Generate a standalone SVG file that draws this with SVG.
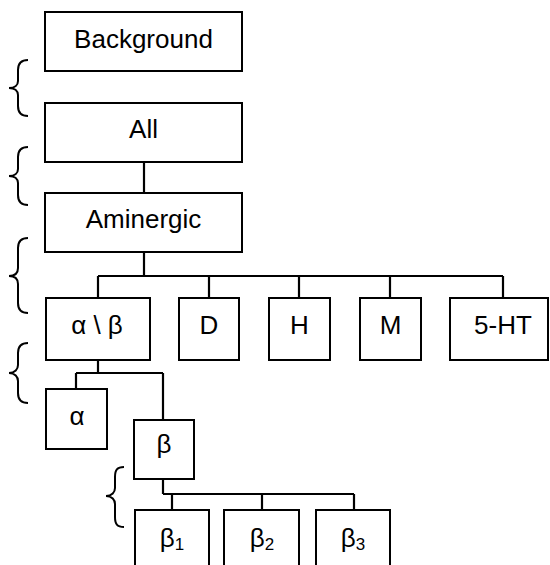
<svg xmlns="http://www.w3.org/2000/svg" width="550" height="565" viewBox="0 0 550 565">
<style>
.box{fill:#fff;stroke:#000;stroke-width:2}
.t{font-family:"Liberation Sans",Arial,sans-serif;font-size:26px;text-anchor:middle;fill:#000}
.c{fill:none;stroke:#000;stroke-width:2.2}
.br{fill:none;stroke:#000;stroke-width:2}
</style>
<rect width="550" height="565" fill="#fff"/>
<g id="braces">
<path class="br" d="M28,60 C21,60 18,63 18,70 L18,81 C18,85 15,88 9,88 C15,88 18,91 18,95 L18,106 C18,113 21,116 28,116"/>
<path class="br" d="M28,147 C21,147 18,150 18,157 L18,169 C18,173 15,176 9,176 C15,176 18,179 18,183 L18,195 C18,202 21,205 28,205"/>
<path class="br" d="M28,238 C21,238 18,241 18,248 L18,268 C18,273 15,276 9,276 C15,276 18,279 18,284 L18,303 C18,310 21,313 28,313"/>
<path class="br" d="M28,343 C21,343 18,346 18,353 L18,365 C18,369 15,373 9,373 C15,373 18,377 18,381 L18,393 C18,400 21,403 28,403"/>
<path class="br" d="M124,467 C117,467 115,470 115,477 L115,488 C115,492 112,496 106,496 C112,496 115,500 115,504 L115,517 C115,524 117,527 124,527"/>
</g>
<g id="connectors">
<path class="c" d="M144,162 V193"/>
<path class="c" d="M144,252 V276 M98,276 H503 M98,276 V298 M209,276 V298 M299,276 V298 M390,276 V298 M503,276 V298"/>
<path class="c" d="M98,360 V373 M76,373 H163 M76,373 V389 M163,373 V420"/>
<path class="c" d="M163,479 V494 M163,494 H354 M172,494 V510 M262,494 V510 M354,494 V510"/>
</g>
<g id="background"><rect class="box" x="45" y="12" width="197" height="59"/><text class="t" x="143.5" y="48">Background</text></g>
<g id="all"><rect class="box" x="45" y="103" width="197" height="59"/><text class="t" x="143.5" y="138">All</text></g>
<g id="aminergic"><rect class="box" x="45" y="193" width="197" height="59"/><text class="t" x="143.5" y="228">Aminergic</text></g>
<g id="alphabeta"><rect class="box" x="46" y="298" width="104" height="62"/><text class="t" x="97" y="334">α \ β</text></g>
<g id="D"><rect class="box" x="179" y="298" width="60" height="62"/><text class="t" x="209" y="334">D</text></g>
<g id="H"><rect class="box" x="269" y="298" width="61" height="62"/><text class="t" x="299.5" y="334">H</text></g>
<g id="M"><rect class="box" x="360" y="298" width="61" height="62"/><text class="t" x="390.5" y="334">M</text></g>
<g id="5HT"><rect class="box" x="450" y="298" width="98" height="62"/><text class="t" x="503" y="334">5-HT</text></g>
<g id="alpha"><rect class="box" x="46" y="389" width="61" height="60"/><text class="t" x="77" y="425">α</text></g>
<g id="beta"><rect class="box" x="134" y="420" width="60" height="59"/><text class="t" x="164" y="453">β</text></g>
<g id="beta1"><rect class="box" x="135" y="510" width="74" height="70"/><text class="t" x="172" y="547">β<tspan font-size="17" dy="3">1</tspan></text></g>
<g id="beta2"><rect class="box" x="224" y="510" width="75" height="70"/><text class="t" x="262" y="547">β<tspan font-size="17" dy="3">2</tspan></text></g>
<g id="beta3"><rect class="box" x="316" y="510" width="74" height="70"/><text class="t" x="353" y="547">β<tspan font-size="17" dy="3">3</tspan></text></g>
</svg>
